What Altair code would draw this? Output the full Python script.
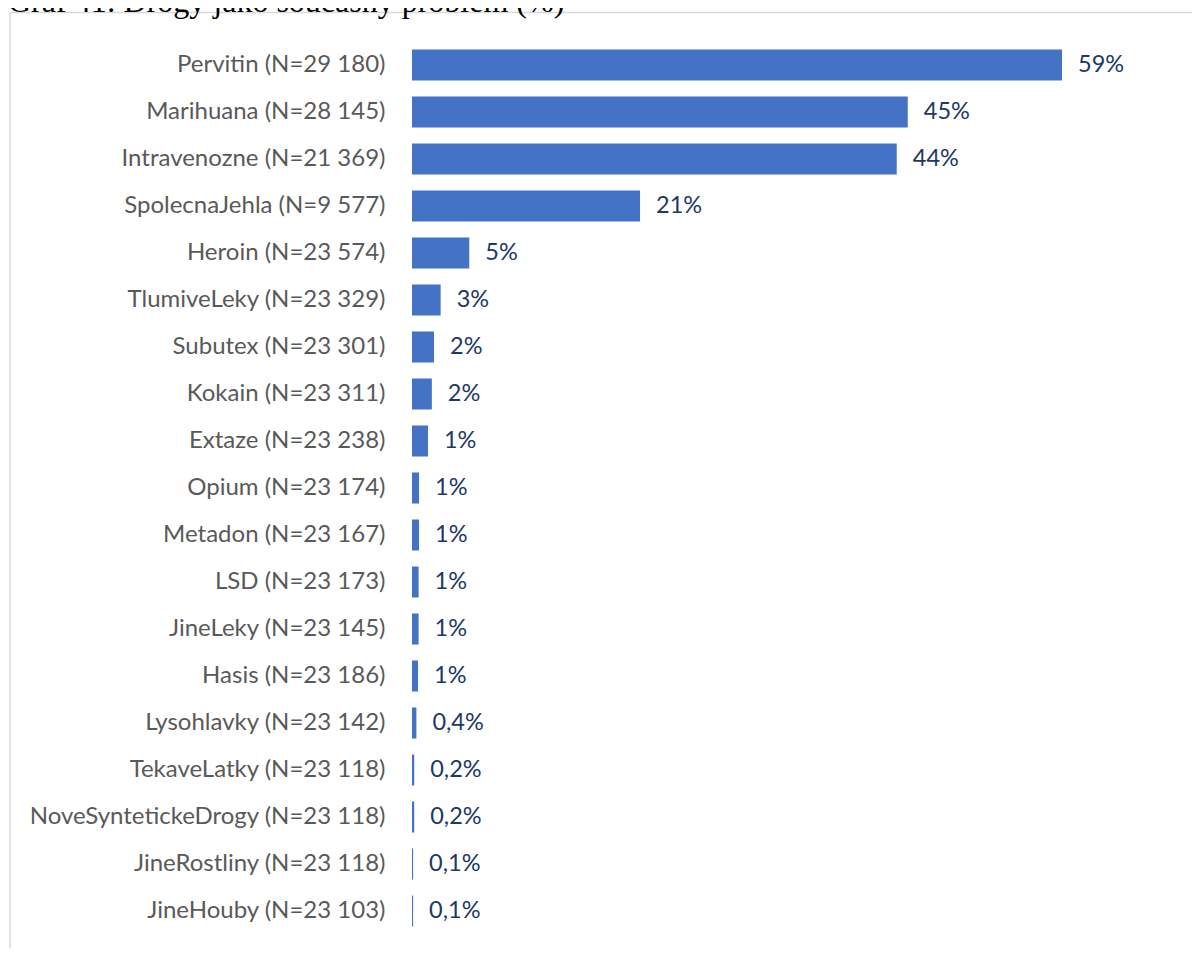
import altair as alt
import pandas as pd

categories = ["Pervitin (N=29 180)", "Marihuana (N=28 145)", "Intravenozne (N=21 369)",
              "SpolecnaJehla (N=9 577)", "Heroin (N=23 574)", "TlumiveLeky (N=23 329)",
              "Subutex (N=23 301)", "Kokain (N=23 311)", "Extaze (N=23 238)",
              "Opium (N=23 174)", "Metadon (N=23 167)", "LSD (N=23 173)",
              "JineLeky (N=23 145)", "Hasis (N=23 186)", "Lysohlavky (N=23 142)",
              "TekaveLatky (N=23 118)", "NoveSyntetickeDrogy (N=23 118)",
              "JineRostliny (N=23 118)", "JineHouby (N=23 103)"]
values = [59.0, 45.0, 44.0, 20.7, 5.2, 2.6, 2.0, 1.8, 1.45, 0.64, 0.64, 0.6, 0.6, 0.55,
          0.4, 0.2, 0.2, 0.1, 0.1]
value_labels = ["59%", "45%", "44%", "21%", "5%", "3%", "2%", "2%", "1%", "1%", "1%", "1%",
                "1%", "1%", "0,4%", "0,2%", "0,2%", "0,1%", "0,1%"]
title_text = "Graf 41: Drogy jako současný problém (%)"

df = pd.DataFrame({"cat": categories, "val": values, "lab": value_labels})

FONT = "Lato"
x_scale = alt.Scale(domain=[0, 70.8], nice=False, zero=True)
y_scale = alt.Scale(domain=categories, paddingInner=0.34, paddingOuter=0.17)

base = alt.Chart(df).encode(
    y=alt.Y("cat:N", scale=y_scale, sort=categories, title=None,
            axis=alt.Axis(ticks=False, domain=False, labelPadding=27, labelFontSize=24,
                          labelFont=FONT, labelColor="#595959", labelLimit=500, grid=False))
)

bars = base.mark_bar(color="#4472C4").encode(
    x=alt.X("val:Q", scale=x_scale, axis=None)
)
texts = base.mark_text(align="left", baseline="middle", dx=16, font=FONT, fontSize=23.5,
                       color="#203864").encode(
    x=alt.X("val:Q", scale=x_scale, axis=None),
    text="lab:N"
)

frame = alt.Chart(df).mark_rect(fill=None, stroke="#d9d9d9", strokeWidth=1.5, clip=False).encode(
    x=alt.value(-402), x2=alt.value(900), y=alt.value(-29), y2=alt.value(1000)
).transform_filter(alt.datum.cat == categories[0])

title = alt.Chart(df).mark_text(align="left", baseline="alphabetic", font="Liberation Serif",
                                fontSize=32, color="#000000", clip=False).encode(
    x=alt.value(-404), y=alt.value(-30), text=alt.value(title_text)
).transform_filter(alt.datum.cat == categories[0])

chart = alt.layer(frame, bars, texts, title).properties(
    width=780, height=893,
    autosize=alt.AutoSizeParams(type="none"),
    padding={"left": 404, "top": 33.5, "right": 0, "bottom": 13}
).configure_view(stroke=None)

chart.save("out.html", embed_options={"renderer": "svg", "actions": False})
